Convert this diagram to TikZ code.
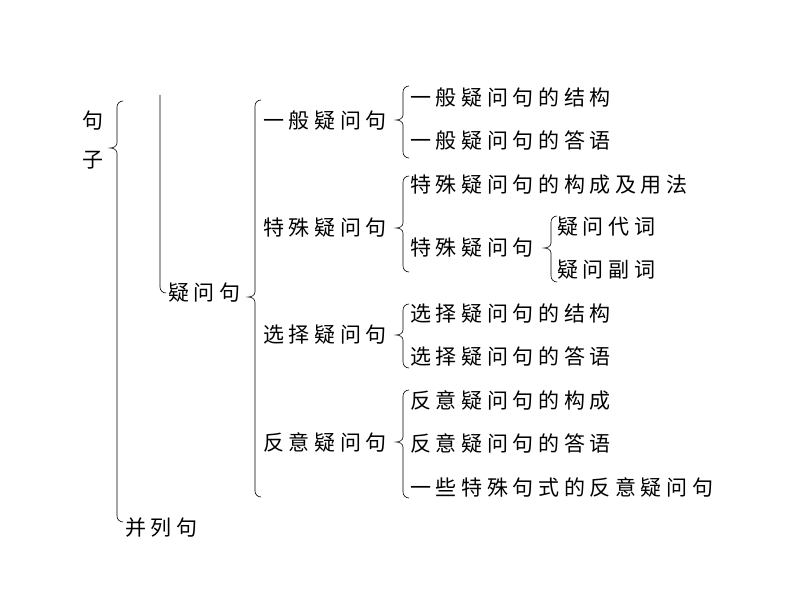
\documentclass[tikz,border=0pt]{standalone}
\usepackage{fontspec}
\setmainfont[LetterSpace=22]{Noto Sans CJK SC}
\newcommand{\brc}[4]{\draw (#1+6,#2) to[out=180,in=90] (#1,#2+6) -- (#1,#3-5) to[out=-90,in=0] (#1-7,#3) to[out=0,in=90] (#1,#3+5) -- (#1,#4-6) to[out=-90,in=180] (#1+6,#4);}
\begin{document}
\begin{tikzpicture}[x=1pt,y=-1pt,line width=0.6pt,
  txt/.style={anchor=west,inner sep=0pt,font=\fontsize{21pt}{22pt}\selectfont}]
\useasboundingbox (0,0) rectangle (794,596);
% level 1
\node[txt] (ju) at (82,121) {句};
\node[txt] (zi) at (82,160) {子};
\brc{117}{101}{148}{522}
\node[txt] (bl) at (125,528) {并列句};
\draw (160,95) -- (160,287) to[out=-90,in=180] (166,293);
\node[txt] (yw) at (168,293) {疑问句};
\brc{255}{100}{297}{497}
% level 2
\node[txt] (yb) at (263,121) {一般疑问句};
\node[txt] (ts) at (263,228) {特殊疑问句};
\node[txt] (xz) at (263,335) {选择疑问句};
\node[txt] (fy) at (263,442) {反意疑问句};
\brc{403}{86}{120}{158}
\brc{403}{176}{228}{272}
\brc{403}{304}{335}{368}
\brc{403}{390}{442}{498}
% level 3
\node[txt] (yb1) at (410,98) {一般疑问句的结构};
\node[txt] (yb2) at (410,141) {一般疑问句的答语};
\node[txt] (ts1) at (410,185) {特殊疑问句的构成及用法};
\node[txt] (ts2) at (410,248) {特殊疑问句};
\node[txt] (xz1) at (410,314) {选择疑问句的结构};
\node[txt] (xz2) at (410,357) {选择疑问句的答语};
\node[txt] (fy1) at (410,400) {反意疑问句的构成};
\node[txt] (fy2) at (410,443) {反意疑问句的答语};
\node[txt] (fy3) at (410,487) {一些特殊句式的反意疑问句};
\brc{551}{216}{248}{282}
\node[txt] (dc) at (557,227) {疑问代词};
\node[txt] (fc) at (557,270) {疑问副词};
\end{tikzpicture}
\end{document}
